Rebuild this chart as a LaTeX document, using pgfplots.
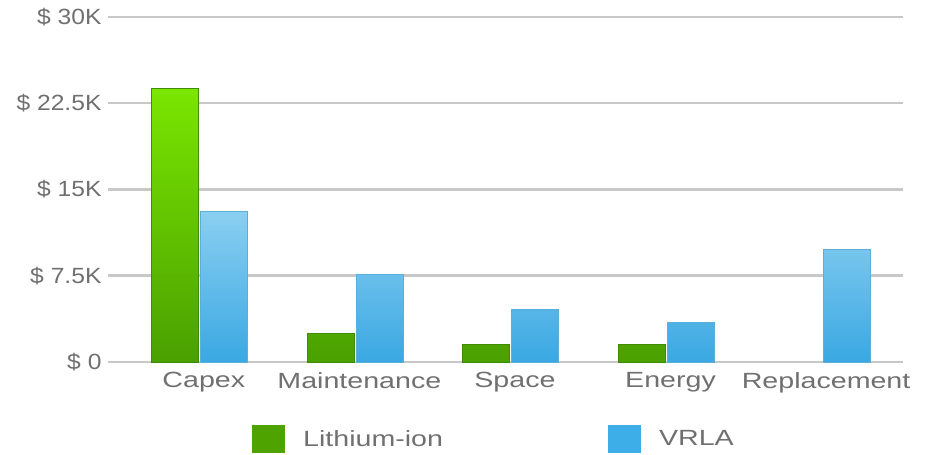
\documentclass[border=0pt]{standalone}
\usepackage{fontspec}
\setmainfont{Liberation Sans}
\newfontfamily\stretched{Liberation Sans}[FakeStretch=1.3]
\newfontfamily\ystretched{Liberation Sans}[FakeStretch=1.12]
\usepackage{pgfplots}
\pgfplotsset{compat=1.18}
\usetikzlibrary{calc}
\definecolor{txt}{HTML}{707070}
\definecolor{gridc}{HTML}{C8C8C8}
\definecolor{litop}{HTML}{7AE600}
\definecolor{libot}{HTML}{4AA000}
\definecolor{liedge}{HTML}{3F8C00}
\definecolor{vrtop}{HTML}{8ACFF1}
\definecolor{vrbot}{HTML}{3AA8E2}
\definecolor{vredge}{HTML}{5AAFD8}
\definecolor{legli}{HTML}{4FA300}
\definecolor{legvr}{HTML}{3DAEE8}
\begin{document}
\begin{tikzpicture}
\begin{axis}[name=ax, scale only axis, width=795bp, height=345bp,
  xmin=-0.59, xmax=4.52, ymin=0, ymax=30000,
  axis line style={draw=none},
  xtick={0,1,2,3,4}, xticklabels={Capex,Maintenance,Space,Energy,Replacement},
  ytick={0,7500,15000,22500,30000},
  yticklabels={\$ 0,\$ 7.5K,\$ 15K,\$ 22.5K,\$ 30K},
  scaled y ticks=false,
  major tick length=0pt, tick style={draw=none},
  ymajorgrids, grid style={color=gridc, line width=2.5bp},
  xticklabel style={font={\stretched\fontsize{22bp}{26bp}\selectfont}, text=txt, yshift=-7bp, xshift=4bp},
  yticklabel style={font={\ystretched\fontsize{22bp}{26bp}\selectfont}, text=txt, xshift=-3bp},
  legend image code/.code={\fill[#1] (0bp,-14bp) rectangle (33bp,14bp); \path (49bp,0bp);},
  legend style={at={(0.4855,-0.223)}, anchor=center, legend columns=2, draw=none, fill=none,
    font={\stretched\fontsize{22bp}{26bp}\selectfont}, text=txt,
    /tikz/every even column/.append style={column sep=163bp}},
]
\addplot[ybar, bar width=47bp, bar shift=-24.5bp, top color=litop, bottom color=libot, draw=liedge, line width=1bp, forget plot]
  coordinates {(0,23800) (1,2500) (2,1550) (3,1550)};
\addplot[ybar, bar width=47bp, bar shift=24.5bp, top color=vrtop, bottom color=vrbot, draw=vredge, line width=1bp, forget plot]
  coordinates {(0,13050) (1,7650) (2,4600) (3,3400) (4,9800)};
\addlegendimage{fill=legli, draw=none}
\addlegendentry{Lithium-ion}
\addlegendimage{fill=legvr, draw=none}
\addlegendentry{VRLA}
\end{axis}
\pgfresetboundingbox
\path[use as bounding box] ($(ax.south west)+(-108bp,-93bp)$) rectangle ($(ax.north east)+(29bp,17bp)$);
\end{tikzpicture}
\end{document}
